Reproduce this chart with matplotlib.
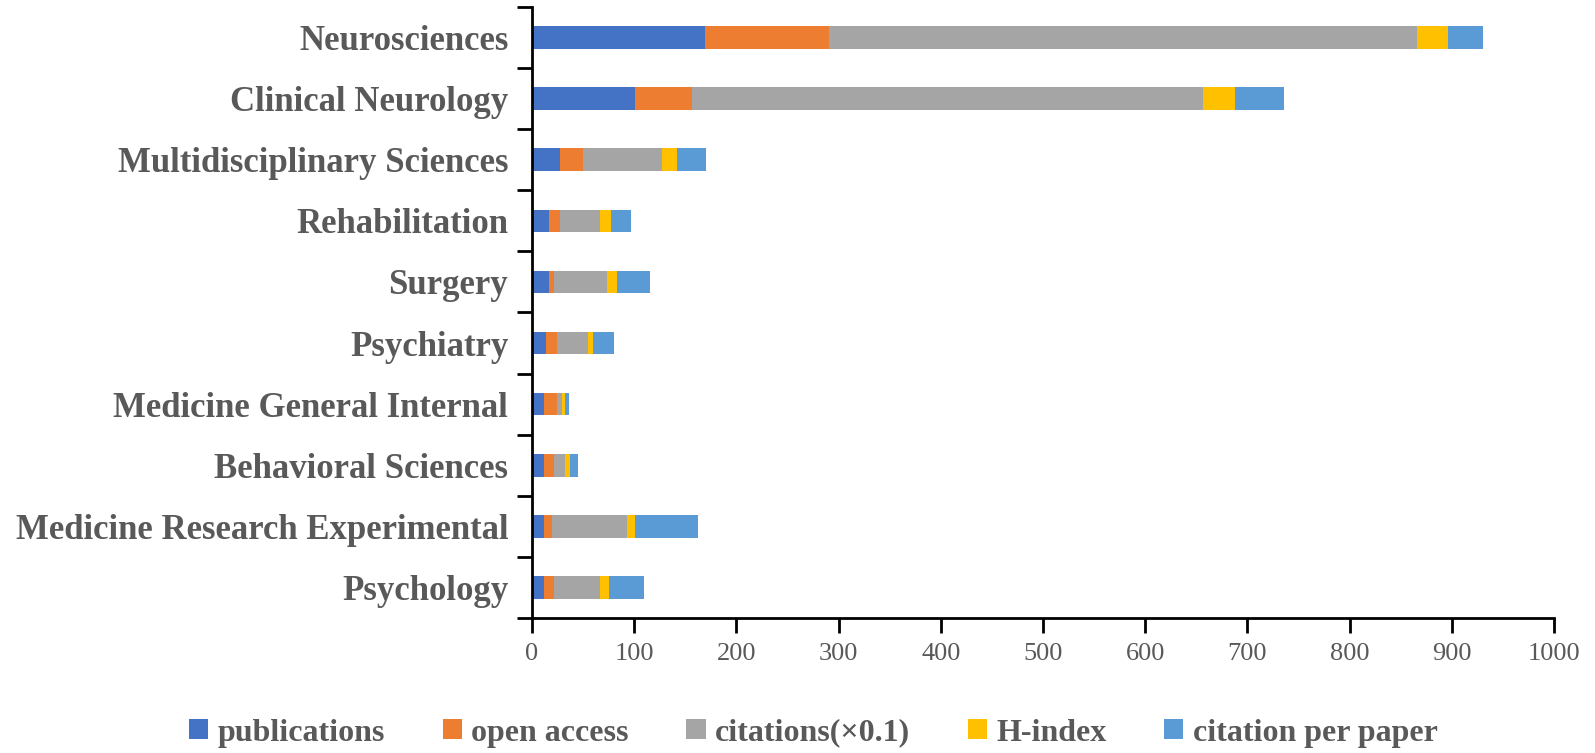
import numpy as np
import matplotlib.pyplot as plt

# categories, top to bottom as in the chart
categories = [
    "Neurosciences", "Clinical Neurology", "Multidisciplinary Sciences",
    "Rehabilitation", "Surgery", "Psychiatry", "Medicine General Internal",
    "Behavioral Sciences", "Medicine Research Experimental", "Psychology",
]
publications = [169, 101, 27, 17, 17, 14, 12, 12, 12, 12]
open_access = [122, 56, 23, 10, 5, 11, 13, 10, 8, 10]
citations_x01 = [575, 500, 77, 40, 51, 30, 4, 10, 73, 45]
h_index = [30, 31, 15, 10, 10, 5, 3, 5, 8, 8]
citation_per_paper = [35, 48, 28, 20, 33, 20, 4, 8, 61, 35]

series_names = ["publications", "open access", "citations(\u00d70.1)", "H-index", "citation per paper"]
colors = ["#4472C4", "#ED7D31", "#A5A5A5", "#FFC000", "#5B9BD5"]
text_color = "#595959"

plt.rcParams['font.family'] = ['Liberation Serif', 'DejaVu Serif']

fig = plt.figure(figsize=(15.95, 7.53), dpi=100)
ax = fig.add_axes([0.3335, 0.1793, 0.6408, 0.8114])

y = np.arange(len(categories))
left = np.zeros(len(categories))
for name, vals, c in zip(series_names,
                         [publications, open_access, citations_x01, h_index, citation_per_paper],
                         colors):
    ax.barh(y, vals, left=left, height=0.37, color=c, label=name)
    left += np.array(vals)

ax.set_ylim(len(categories) - 0.5, -0.5)
ax.set_xlim(0, 1000)
ax.set_xticks(np.arange(0, 1001, 100))

ax.set_yticks(y)
ax.set_yticklabels(categories, fontweight='bold')
ax.set_yticks(np.arange(-0.5, len(categories), 1), minor=True)
ax.tick_params(axis='y', which='major', length=0, pad=17, labelsize=25, labelcolor=text_color)
ax.tick_params(axis='y', which='minor', length=11, width=2, direction='out', color='black')
ax.tick_params(axis='x', length=11, width=2, direction='out', labelsize=19,
               labelcolor=text_color, pad=7)

for s in ['top', 'right']:
    ax.spines[s].set_visible(False)
for s in ['left', 'bottom']:
    ax.spines[s].set_linewidth(2)
    ax.spines[s].set_color('black')

fig.legend(loc='lower center', bbox_to_anchor=(0.51, -0.031), ncol=5, frameon=False,
           prop={'size': 23, 'weight': 'bold'}, handlelength=0.6, handleheight=0.6,
           handletextpad=0.3, columnspacing=1.8, labelcolor=text_color)

fig.savefig("out.png", dpi=100)
